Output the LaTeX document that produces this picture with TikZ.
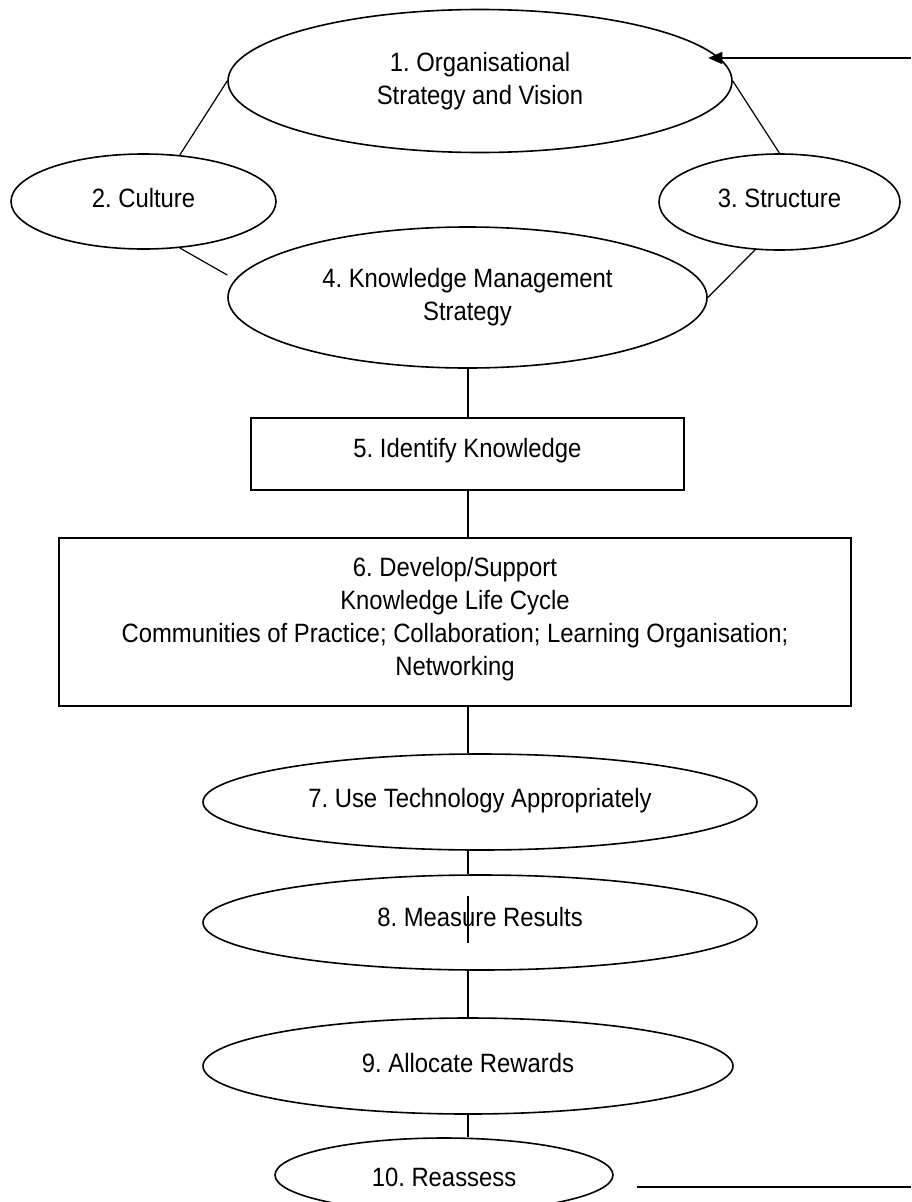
\documentclass[tikz,border=0pt]{standalone}
\usepackage{fontspec}
\setmainfont{Liberation Sans}[FakeStretch=0.9]
\usetikzlibrary{arrows.meta,shapes.geometric}

\begin{document}
\begin{tikzpicture}[x=1pt,y=-1pt,
  every node/.style={font=\frenchspacing\fontsize{26.5}{33}\selectfont},
  oval/.style={draw,ellipse,line width=1.6pt,inner sep=0pt},
  stepbox/.style={draw,rectangle,line width=1.6pt,inner sep=0pt},
  txt/.style={align=center,inner sep=0pt},
  link/.style={line width=1.2pt},
  fbline/.style={line width=1.5pt},
  fbarrow/.style={fbline,-{Triangle[length=14pt,width=12pt]}},
]
\fill[white] (0,0) rectangle (911,1202);
\useasboundingbox (0,0) rectangle (911,1202);

% upper cluster
\node[oval, minimum width=504pt, minimum height=143pt,
  label={[txt]center:{1. Organisational\\Strategy and Vision}}] (e1) at (480,81) {};
\node[oval, minimum width=265pt, minimum height=95pt,
  label={[txt,yshift=3.5pt]center:{2. Culture}}] (c2) at (143.5,201.5) {};
\node[oval, minimum width=241pt, minimum height=96pt,
  label={[txt,yshift=4pt]center:{3. Structure}}] (s3) at (779.5,202) {};
\node[oval, minimum width=479pt, minimum height=141pt,
  label={[txt]center:{4. Knowledge Management\\Strategy}}] (e4) at (467.5,297.5) {};

% main column
\node[stepbox, minimum width=433pt, minimum height=72pt,
  label={[txt,yshift=3.4pt]center:{5. Identify Knowledge}}] (b5) at (467.5,454) {};
\node[stepbox, minimum width=792pt, minimum height=168pt,
  label={[txt,yshift=2.4pt]center:{6. Develop/Support\\Knowledge Life Cycle\\Communities of Practice; Collaboration; Learning Organisation;\\Networking}}] (b6) at (455,622) {};
\node[oval, minimum width=554pt, minimum height=96pt,
  label={[txt,yshift=1.4pt]center:{7. Use Technology Appropriately}}] (e7) at (480,802) {};
\node[oval, minimum width=554pt, minimum height=95pt,
  label={[txt,yshift=5pt]center:{8. Measure Results}}] (e8) at (480,922.5) {};
\node[oval, minimum width=530pt, minimum height=96pt,
  label={[txt,yshift=3pt]center:{9. Allocate Rewards}}] (e9) at (468,1066) {};
\node[oval, minimum width=338pt, minimum height=74pt,
  label={[txt,yshift=-2pt]center:{10. Reassess}}] (e10) at (444,1175) {};

% links of the upper cluster
\draw[link] (c2.52) -- (e1.west);
\draw[link] (c2.-52) -- ([yshift=22.5pt]e4.west);
\draw[link] (s3.north) -- (e1.east);
\draw[link] (s3.-117) -- (e4.east);

% vertical spine
\coordinate (axis) at (468,0);
\draw[link] (e4.south -| axis) -- (b5.north -| axis);
\draw[link] (b5.south -| axis) -- (b6.north -| axis);
\draw[link] (b6.south -| axis) -- (e7.north -| axis);
\draw[link] (e7.south -| axis) -- (e8.north -| axis);
\coordinate (tickT) at (468,896);
\coordinate (tickB) at (468,943);
\draw[link] (tickT) -- (tickB);
\draw[link] (e8.south -| axis) -- (e9.north -| axis);
\draw[link] (e9.south -| axis) -- (e10.north -| axis);

% feedback lines
\coordinate (fbin) at (911,58);
\path (fbin -| e1.6) coordinate (fbtip);
\draw[fbarrow] (fbin) -- ([xshift=-9pt]fbtip);
\coordinate (fbout) at (911,1187);
\path (fbout -| e10.east) coordinate (fbstart);
\draw[fbline] ([xshift=23pt]fbstart) -- (fbout);
\end{tikzpicture}
\end{document}
